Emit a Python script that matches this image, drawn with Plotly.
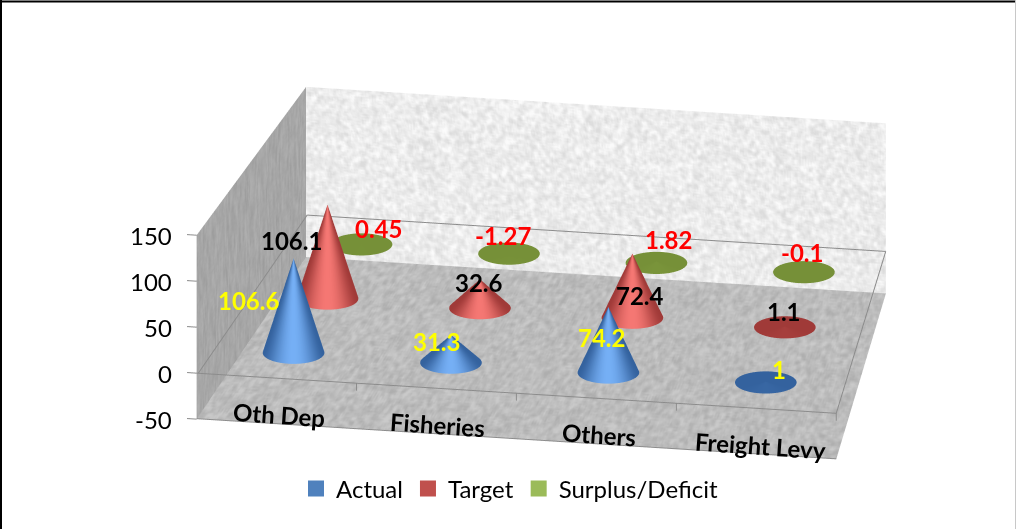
import numpy as np
import plotly.graph_objects as go

# ---- chart values ----
categories = ["Oth Dep", "Fisheries", "Others", "Freight Levy"]
series_names = ["Actual", "Target", "Surplus/Deficit"]
actual = [106.6, 31.3, 74.2, 1]
target = [106.1, 32.6, 72.4, 1.1]
surplus = [0.45, -1.27, 1.82, -0.1]
z_ticks = [-50, 0, 50, 100, 150]

# ---- scene ranges and proportions ----
X_RANGE = [-0.2, 4.2]
Y_RANGE = [-0.02, 3.02]
Z_RANGE = [-60, 165]
ASPECT = dict(x=2.574, y=1.7725, z=0.807)
NORM = [ASPECT["x"] / (X_RANGE[1] - X_RANGE[0]),
        ASPECT["y"] / (Y_RANGE[1] - Y_RANGE[0]),
        ASPECT["z"] / (Z_RANGE[1] - Z_RANGE[0])]
VIEW_DIR = np.array([0.1604, -0.919, 0.3598])
CAM_CENTER = np.array([-0.180, -0.02868, 0.00702])
CAM_DISTANCE = 2.0
CONE_RADIUS = 0.1165

BLUE = ((52, 98, 158), (118, 176, 246))
RED = ((160, 58, 56), (246, 120, 116))
GREEN = ((118, 144, 56), (150, 180, 80))
SWATCH = ["#4f81bd", "#c0504d", "#9bbb59"]
LABEL_COLORS = ["#ffff00", "#000000", "#ff0000"]
GRID = "#8c8c8c"
FONT = "Lato"


def taper_x(x, y):
    """Narrow the box towards the back wall."""
    return x + (np.asarray(x) / 4 - 0.5) * (0.5 - np.asarray(y) / 3) * 0.392


def taper_z(y, z):
    """Frame height shrinks slightly with depth."""
    w = (np.asarray(z) + 50) / 200
    return w * (1 + (0.5 - np.asarray(y) / 3) * 0.078) * 200 - 50


def speckle(rows, cols, seed, blur=(1, 1)):
    """Deterministic mottled texture in the range 0..1."""
    jj, ii = np.meshgrid(np.arange(cols), np.arange(rows))
    s = np.sin(ii * 12.9898 + jj * 78.233 + seed) * 43758.5453
    tex = s - np.floor(s)
    for axis, n in enumerate(blur):
        out = np.zeros_like(tex)
        for k in range(-n, n + 1):
            out += np.roll(tex, k, axis=axis)
        tex = out / (2 * n + 1)
    lo, hi = np.percentile(tex, [1, 99])
    return np.clip((tex - lo) / (hi - lo), 0, 1)


def wall(x, y, z, tex, lo, hi):
    return go.Surface(
        x=x, y=y, z=z, surfacecolor=tex, cmin=0, cmax=1,
        colorscale=[[0, lo], [1, hi]], showscale=False, hoverinfo="skip",
        lighting=dict(ambient=1, diffuse=0, specular=0, roughness=1, fresnel=0),
        contours=dict(x=dict(highlight=False), y=dict(highlight=False), z=dict(highlight=False)),
    )


def frame_line(xs, ys, zs, width=2):
    xs, ys, zs = np.asarray(xs, float), np.asarray(ys, float), np.asarray(zs, float)
    return go.Scatter3d(
        x=taper_x(xs, ys), y=ys, z=taper_z(ys, zs), mode="lines",
        line=dict(color=GRID, width=width), hoverinfo="skip", showlegend=False,
    )


def cones(values, row, palette, name):
    """One mesh per series: a cone on z=0 for every category."""
    xs, ys, zs, ii, jj, kk, cols = [], [], [], [], [], [], []
    rx, ry = CONE_RADIUS / NORM[0], CONE_RADIUS / NORM[1]
    view_angle = np.arctan2(VIEW_DIR[1], VIEW_DIR[0])
    dark, light = np.array(palette[0]), np.array(palette[1])
    angles = np.linspace(0, 2 * np.pi, 73)
    for c, v in enumerate(values):
        cx = float(taper_x(c + 0.5, row))
        slant = min(1.0, abs(v) / 15)
        for a0, a1 in zip(angles[:-1], angles[1:]):
            n = len(xs)
            for a in (a0, a1):
                xs.append(cx + rx * np.cos(a))
                ys.append(row + ry * np.sin(a))
                zs.append(0)
                t = max(0.0, np.cos(a - view_angle)) ** 3 * slant
                cols.append("rgb(%d,%d,%d)" % tuple(dark + (light - dark) * t))
            xs.append(cx)
            ys.append(row)
            zs.append(v)
            t = max(0.0, np.cos((a0 + a1) / 2 - view_angle)) ** 3 * slant
            cols.append("rgb(%d,%d,%d)" % tuple(dark + (light - dark) * t))
            ii.append(n)
            jj.append(n + 1)
            kk.append(n + 2)
            # flat cap across the base
            xs.append(cx)
            ys.append(row)
            zs.append(0)
            cols.append("rgb(%d,%d,%d)" % tuple(dark))
            ii.append(n)
            jj.append(n + 1)
            kk.append(n + 3)
    return go.Mesh3d(
        x=xs, y=ys, z=zs, i=ii, j=jj, k=kk, vertexcolor=cols, name=name,
        flatshading=False, hoverinfo="skip", showlegend=False,
        lighting=dict(ambient=1, diffuse=0, specular=0, roughness=1, fresnel=0),
    )


fig = go.Figure()

# ---- walls and floor ----
gx, gz = np.meshgrid(np.linspace(0, 4, 420), np.linspace(-50, 150, 120))
gy = np.full_like(gx, 3.0)
fig.add_trace(wall(taper_x(gx, gy), gy, taper_z(gy, gz), speckle(120, 420, 1.0), "#dcdcdc", "#fbfbfb"))

gx, gy = np.meshgrid(np.linspace(0, 4, 440), np.linspace(0, 3, 110))
gz = np.full_like(gx, -50.0)
fig.add_trace(wall(taper_x(gx, gy), gy, gz, speckle(110, 440, 2.0), "#aeaeae", "#cacaca"))

gy, gz = np.meshgrid(np.linspace(0, 3, 100), np.linspace(-50, 150, 90))
gx = np.zeros_like(gy)
fig.add_trace(wall(taper_x(gx, gy), gy, taper_z(gy, gz), speckle(90, 100, 3.0, (3, 0)), "#9c9c9c", "#b0b0b0"))

# ---- frame lines on the z=0 level, floor edge and ticks ----
fig.add_trace(frame_line([0.01, 4], [2.99, 2.99], [0, 0]))
fig.add_trace(frame_line([0.01, 0.01], [0, 2.99], [0, 0]))
fig.add_trace(frame_line([0, 4, 4], [0, 0, 2.99], [0, 0, 0]))
fig.add_trace(frame_line([0, 4], [0, 0], [-49.5, -49.5]))
for t in z_ticks:
    fig.add_trace(frame_line([-0.06, 0], [0, 0], [t, t]))
for c in range(1, 5):
    fig.add_trace(frame_line([c, c], [0, 0], [0, -8]))

# ---- cones, front row first ----
fig.add_trace(cones(surplus, 2.5, GREEN, series_names[2]))
fig.add_trace(cones(target, 1.5, RED, series_names[1]))
fig.add_trace(cones(actual, 0.5, BLUE, series_names[0]))

# ---- legend entries ----
for name, col in zip(series_names, SWATCH):
    fig.add_trace(go.Scatter3d(
        x=[None], y=[None], z=[None], mode="markers", name=name,
        marker=dict(symbol="square", size=16, color=col), hoverinfo="skip",
    ))

# ---- text placed at data positions ----
notes = []
value_shifts = [
    [(-45, -42), (-14, -7), (-7, -31), (13, 12)],
    [(-36, -36), (-1, -3), (8, -42), (-1, 15)],
    [(17, 15), (-6, 19), (12, 22), (-1, 20)],
]
for values, row, color, shifts in zip([actual, target, surplus], [0.5, 1.5, 2.5], LABEL_COLORS, value_shifts):
    for c, v in enumerate(values):
        notes.append(dict(
            x=float(taper_x(c + 0.5, row)), y=row, z=v, text=str(v), showarrow=False,
            xanchor="center", yanchor="middle", xshift=shifts[c][0], yshift=shifts[c][1],
            font=dict(family=FONT, size=24, color=color, weight="bold"),
        ))
cat_shifts = [(2, 10), (1, 10), (3, 10), (4, 9)]
for c, name in enumerate(categories):
    notes.append(dict(
        x=float(taper_x(c + 0.5, 0)), y=0, z=-50, text=name, showarrow=False, textangle=4,
        xanchor="center", yanchor="middle", xshift=cat_shifts[c][0], yshift=cat_shifts[c][1],
        font=dict(family=FONT, size=24, color="#000000", weight="bold"),
    ))
for t in z_ticks:
    notes.append(dict(
        x=float(taper_x(0, 0)), y=0, z=float(taper_z(0, t)), text=str(t), showarrow=False,
        xanchor="right", yanchor="middle", xshift=-23,
        font=dict(family=FONT, size=24, color="#000000"),
    ))

hidden = dict(visible=False, showspikes=False)
eye = CAM_CENTER + CAM_DISTANCE * VIEW_DIR
fig.update_layout(
    width=1016, height=529, margin=dict(l=0, r=0, t=0, b=0),
    paper_bgcolor="#ffffff", showlegend=True,
    font=dict(family=FONT, size=22, color="#000000"),
    legend=dict(orientation="h", x=296 / 1016, xanchor="left", y=0.076, yanchor="middle",
                font=dict(family=FONT, size=24), bgcolor="rgba(0,0,0,0)"),
    scene=dict(
        domain=dict(x=[0, 1], y=[0, 1]),
        xaxis=dict(range=X_RANGE, **hidden),
        yaxis=dict(range=Y_RANGE, **hidden),
        zaxis=dict(range=Z_RANGE, **hidden),
        aspectmode="manual", aspectratio=ASPECT,
        camera=dict(
            eye=dict(x=float(eye[0]), y=float(eye[1]), z=float(eye[2])),
            center=dict(x=float(CAM_CENTER[0]), y=float(CAM_CENTER[1]), z=float(CAM_CENTER[2])),
            up=dict(x=0, y=0, z=1),
            projection=dict(type="orthographic"),
        ),
        annotations=notes,
    ),
    shapes=[
        dict(type="line", xref="paper", yref="paper", x0=0, x1=1, y0=1 - 1.5 / 529, y1=1 - 1.5 / 529,
             line=dict(color="#000000", width=2)),
        dict(type="line", xref="paper", yref="paper", x0=1 / 1016, x1=1 / 1016, y0=0, y1=1,
             line=dict(color="#000000", width=2)),
        dict(type="line", xref="paper", yref="paper", x0=1 - 0.5 / 1016, x1=1 - 0.5 / 1016, y0=0, y1=1,
             line=dict(color="#c8c8c8", width=1)),
    ],
)
fig.write_html("out.html", config=dict(displayModeBar=False))
